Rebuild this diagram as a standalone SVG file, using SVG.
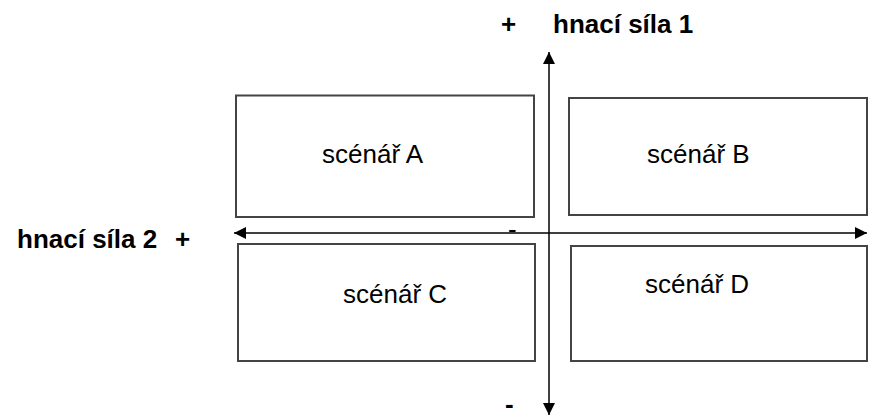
<svg xmlns="http://www.w3.org/2000/svg" width="881" height="417" viewBox="0 0 881 417">
<defs>
<marker id="ah" viewBox="0 0 10 10" refX="10" refY="5" markerWidth="12" markerHeight="12" markerUnits="userSpaceOnUse" orient="auto-start-reverse">
<path d="M0,0 L10,5 L0,10 Z" fill="#000"/>
</marker>
<style>
.box{fill:#fff;stroke:#444;stroke-width:2}
.lbl{font-family:"Liberation Sans",Arial,sans-serif;font-size:26px;fill:#000}
.hd{font-family:"Liberation Sans",Arial,sans-serif;font-size:26px;font-weight:bold;fill:#000}
.ax{stroke:#000;stroke-width:1.5;fill:none}
</style>
</defs>
<rect width="881" height="417" fill="#fff"/>
<g id="nodeA"><rect class="box" x="236" y="95.5" width="298" height="121.5"/><text class="lbl" x="322" y="163">scénář A</text></g>
<g id="nodeB"><rect class="box" x="569" y="98" width="298" height="117"/><text class="lbl" x="647" y="163">scénář B</text></g>
<g id="nodeC"><rect class="box" x="238" y="244" width="297" height="117"/><text class="lbl" x="343" y="303">scénář C</text></g>
<g id="nodeD"><rect class="box" x="571" y="246" width="296" height="115"/><text class="lbl" x="645" y="293">scénář D</text></g>
<g id="connectors">
<line class="ax" x1="549" y1="415" x2="549" y2="52" marker-start="url(#ah)" marker-end="url(#ah)"/>
<line class="ax" x1="234" y1="233" x2="867" y2="233" marker-start="url(#ah)" marker-end="url(#ah)"/>
</g>
<g id="labels">
<text class="hd" x="501" y="33" font-size="22">+</text>
<text class="hd" x="553" y="33">hnací síla 1</text>
<text class="hd" x="17" y="248">hnací síla 2</text>
<text class="hd" x="175" y="248" font-size="22">+</text>
<text class="lbl" x="508" y="238" font-size="14">-</text>
<text class="hd" x="505" y="413" font-size="18">-</text>
</g>
</svg>
